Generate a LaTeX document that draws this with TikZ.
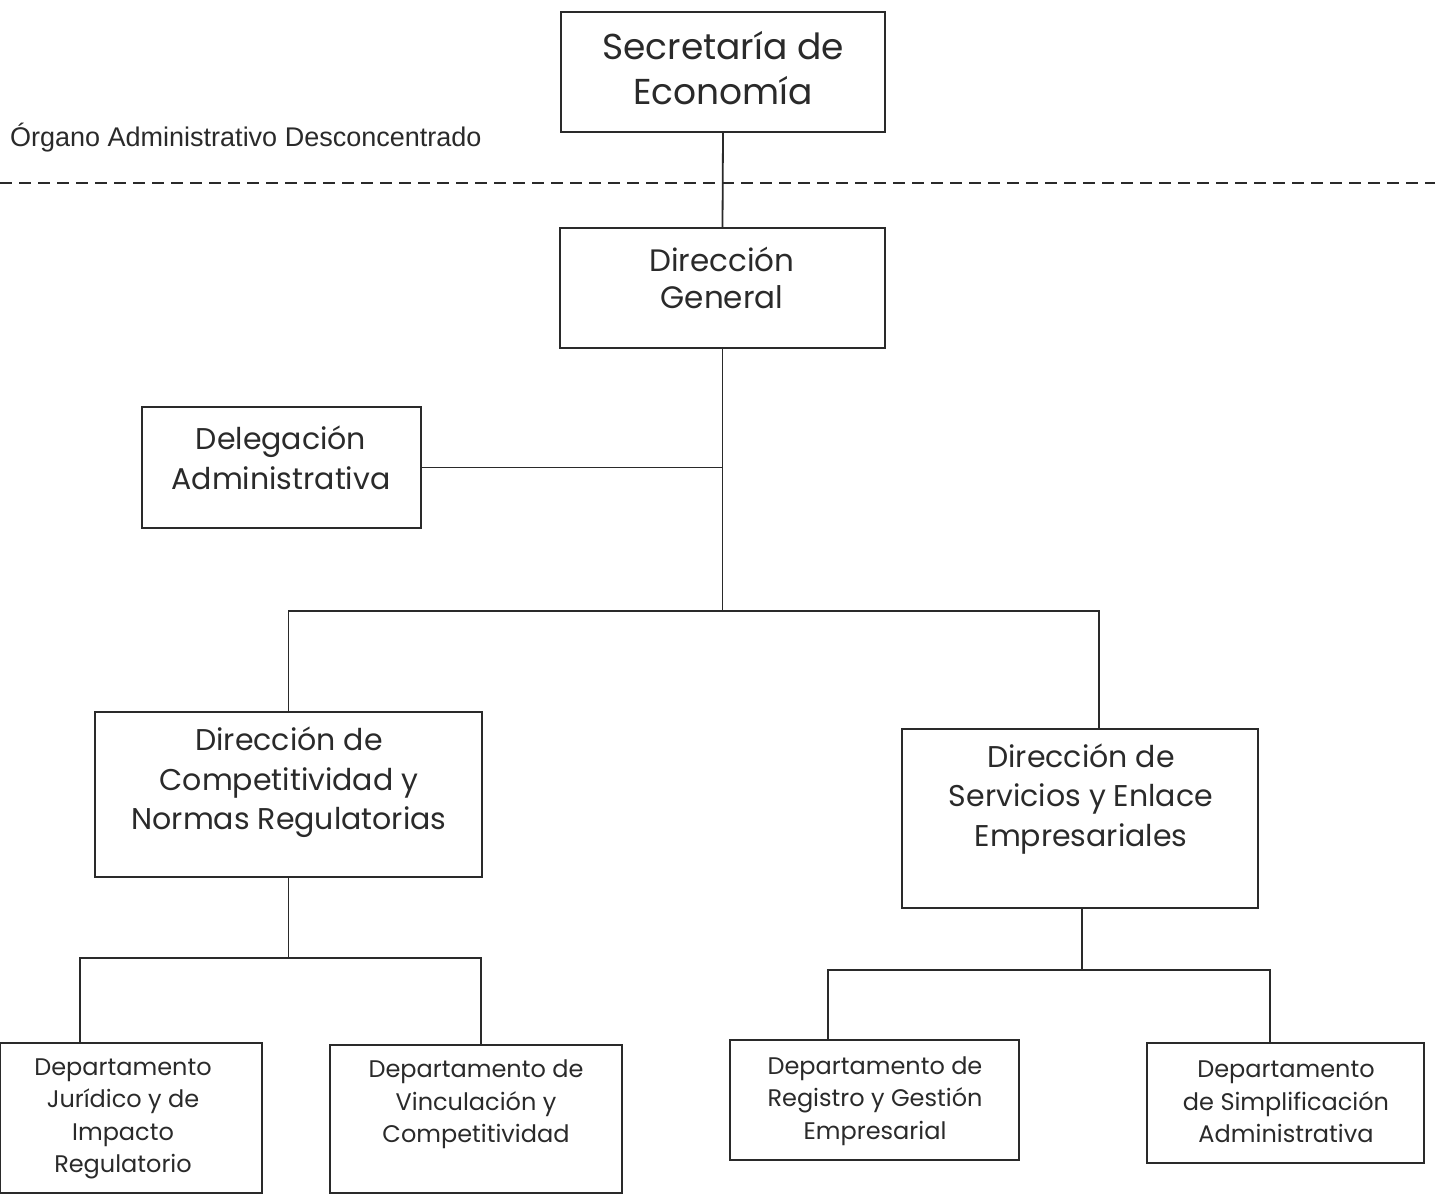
\documentclass[tikz,border=0pt]{standalone}
\usepackage{fontspec}
\setmainfont{Poppins}
\newfontfamily\arialf{Liberation Sans}
\definecolor{ink}{HTML}{2A2A2A}
\begin{document}
\begin{tikzpicture}[x=1pt,y=-1pt,
  box/.style={draw=ink,line width=1.8pt,inner sep=0pt},
  txt/.style={text=ink,align=center,inner sep=0pt},
  big/.style={font=\fontsize{36}{45}\selectfont},
  mid/.style={font=\fontsize{30}{39.5}\selectfont},
  small/.style={font=\fontsize{24}{32.5}\selectfont},
  conn/.style={draw=ink,line width=1.8pt},
]
\useasboundingbox (0,0) rectangle (1435,1203);
% boxes
\node[box,minimum width=324pt,minimum height=120pt] (sec) at (723,72) {};
\node[box,minimum width=325pt,minimum height=120pt] (dg) at (722.5,288) {};
\node[box,minimum width=279pt,minimum height=121pt] (del) at (281.5,467.5) {};
\node[box,minimum width=387pt,minimum height=165pt] (dc) at (288.5,794.5) {};
\node[box,minimum width=356pt,minimum height=179pt] (ds) at (1080,818.5) {};
\node[box,minimum width=262pt,minimum height=150pt] (b1) at (131,1118) {};
\node[box,minimum width=292pt,minimum height=148pt] (b2) at (476,1119) {};
\node[box,minimum width=289pt,minimum height=120pt] (b3) at (874.5,1100) {};
\node[box,minimum width=277pt,minimum height=120pt] (b4) at (1285.5,1103) {};
% texts
\node[txt,big] (sect) at (723,68.5) {Secretaría de\\Economía};
\node[txt,font=\fontsize{31}{37}\selectfont] (dgt) at (722,277.5) {Dirección\\General};
\node[txt,mid] (delt) at (281,458) {Delegación\\Administrativa};
\node[txt,mid] (dct) at (289,782.5) {Dirección de\\Competitividad y\\Normas Regulatorias};
\node[txt,mid] (dst) at (1081,799) {Dirección de\\Servicios y Enlace\\Empresariales};
\node[txt,small] (b1t) at (123,1119) {Departamento\\Jurídico y de\\Impacto\\Regulatorio};
\node[txt,small] (b2t) at (476,1104.5) {Departamento de\\Vinculación y\\Competitividad};
\node[txt,small] (b3t) at (875,1101) {Departamento de\\Registro y Gestión\\Empresarial};
\node[txt,small] (b4t) at (1286,1102) {Departamento\\de Simplificación\\Administrativa};
\node[txt,anchor=west,font=\arialf\fontsize{27}{32}\selectfont] (org) at (10,138) {Órgano Administrativo Desconcentrado};
% dashed divider
\coordinate (dl1) at (0,183);
\coordinate (dl2) at (1435,183);
\draw[draw=ink,line width=1.8pt,dash pattern=on 12pt off 7pt] (dl1) -- (dl2);
% connectors
\coordinate (j1) at (722.5,467.5);
\coordinate (jb) at (722.5,611);
\coordinate (jR) at (1099,611);
\coordinate (jL) at (288.5,958);
\coordinate (lL) at (80,958);
\coordinate (lR) at (481,958);
\coordinate (jS) at (1082,970);
\coordinate (rL) at (828,970);
\coordinate (rR) at (1270,970);
\draw[conn] (sec.south) -- (dg.north);
\draw[conn] (dg.south) -- (jb);
\draw[conn] (del.east) -- (j1);
\draw[conn] (dc.north) |- (jR) -- (jR |- ds.north);
\draw[conn] (dc.south) -- (jL);
\draw[conn] (lL |- b1.north) -- (lL) -- (lR) -- (lR |- b2.north);
\draw[conn] (jS |- ds.south) -- (jS);
\draw[conn] (rL |- b3.north) -- (rL) -- (rR) -- (rR |- b4.north);
\end{tikzpicture}
\end{document}
